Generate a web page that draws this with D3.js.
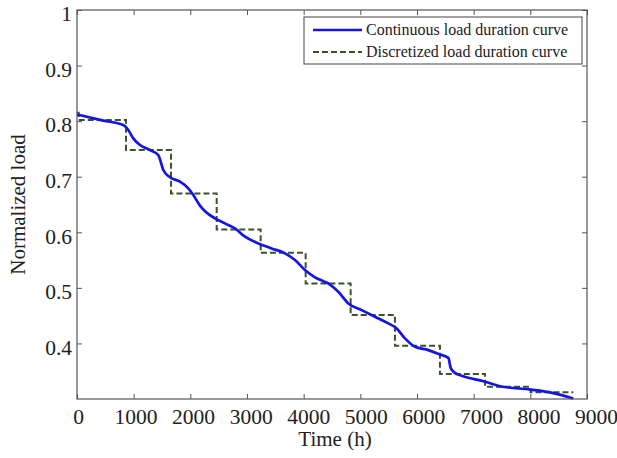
<!DOCTYPE html>
<html><head><meta charset="utf-8">
<script src="https://cdn.jsdelivr.net/npm/d3@7"></script>
<style>body{margin:0;background:#fff}svg{display:block}</style>
</head><body>
<svg id="c" width="617" height="458"></svg>
<script>
// Continuous load duration curve (time in h, normalized load)
const contTime = [0,464,817,905,993,1112,1288,1435,1477,1523,1641,1818,1964,2053,2170,2259,2435,2612,2788,2965,3200,3435,3670,3847,4023,4200,4347,4464,4611,4788,5023,5258,5494,5641,5788,5964,6200,6405,6553,6594,6670,6817,7170,7464,7994,8347,8759];
const contLoad = [0.812,0.801,0.793,0.784,0.769,0.757,0.748,0.739,0.727,0.712,0.699,0.691,0.679,0.667,0.648,0.638,0.625,0.616,0.607,0.592,0.580,0.571,0.562,0.550,0.532,0.519,0.512,0.506,0.493,0.472,0.460,0.448,0.436,0.427,0.409,0.394,0.388,0.380,0.374,0.356,0.347,0.341,0.332,0.323,0.317,0.312,0.301];
// Discretized load duration curve: step boundaries and levels
const stepTime = [0,30,865,1659,2465,3241,4035,4829,5611,6405,7200,8006,8759];
const stepLoad = [0.815,0.802,0.748,0.670,0.605,0.563,0.508,0.451,0.396,0.345,0.322,0.312];
const xTicks = [0,1000,2000,3000,4000,5000,6000,7000,8000,9000];
const yTicks = [0.4,0.5,0.6,0.7,0.8,0.9,1];
const legendLabels = ["Continuous load duration curve","Discretized load duration curve"];

const svg = d3.select("#c");
const L=77,R=587,T=10,B=399;
const x = d3.scaleLinear().domain([0,9000]).range([L,R]);
const y = d3.scaleLinear().domain([0.3,1]).range([B,T]);
const font = "'Liberation Serif','Times New Roman',serif";
const axisCol = "#555";

// curves
const contData = contTime.map((t,i)=>[t,contLoad[i]]);
const stepData = stepLoad.map((v,i)=>[stepTime[i],v]);
stepData.push([stepTime[stepTime.length-1], stepLoad[stepLoad.length-1]]);

svg.append("path").datum(stepData)
  .attr("d", d3.line().x(d=>x(d[0])).y(d=>y(d[1])).curve(d3.curveStepAfter))
  .attr("fill","none").attr("stroke","#3b5328").attr("stroke-width",2)
  .attr("stroke-dasharray","6,3");
svg.append("path").datum(contData)
  .attr("d", d3.line().x(d=>x(d[0])).y(d=>y(d[1])).curve(d3.curveMonotoneX))
  .attr("fill","none").attr("stroke","#1414e6").attr("stroke-width",2.7);

// box
svg.append("rect").attr("x",L).attr("y",T).attr("width",R-L).attr("height",B-T)
  .attr("fill","none").attr("stroke",axisCol).attr("stroke-width",1.2);

// axes (ticks inward on all sides)
const gx = svg.append("g").attr("transform",`translate(0,${B})`)
  .call(d3.axisBottom(x).tickValues(xTicks).tickSize(-5).tickPadding(10).tickFormat(d3.format("d")));
const gxt = svg.append("g").attr("transform",`translate(0,${T})`)
  .call(d3.axisTop(x).tickValues(xTicks).tickSize(-5).tickFormat(""));
const gy = svg.append("g").attr("transform",`translate(${L},0)`)
  .call(d3.axisLeft(y).tickValues(yTicks).tickSize(-5).tickPadding(5).tickFormat(d=>d===1?"1":d3.format(".1f")(d)));
const gyr = svg.append("g").attr("transform",`translate(${R},0)`)
  .call(d3.axisRight(y).tickValues(yTicks).tickSize(-5).tickFormat(""));
[gx,gxt,gy,gyr].forEach(g=>{
  g.select(".domain").remove();
  g.selectAll(".tick line").attr("stroke",axisCol);
  g.selectAll("text").attr("font-family",font).attr("font-size",21.5).attr("fill","#222");
});
gx.selectAll(".tick text").attr("dx",d=>1+d/9000*8);
gy.selectAll(".tick text").attr("dy","0.5em");

// axis titles
svg.append("text").attr("x",335).attr("y",446).attr("text-anchor","middle")
  .attr("font-family",font).attr("font-size",21).attr("fill","#222").text("Time (h)");
svg.append("text").attr("transform",`translate(25,${(T+B)/2}) rotate(-90)`).attr("text-anchor","middle")
  .attr("font-family",font).attr("font-size",21).attr("fill","#222").text("Normalized load");

// legend
const lg = svg.append("g");
lg.append("rect").attr("x",304).attr("y",17).attr("width",278).attr("height",47)
  .attr("fill","#fff").attr("stroke","#444").attr("stroke-width",1);
lg.append("line").attr("x1",313).attr("x2",362).attr("y1",30).attr("y2",30)
  .attr("stroke","#1414e6").attr("stroke-width",2.7);
lg.append("line").attr("x1",313).attr("x2",362).attr("y1",52).attr("y2",52)
  .attr("stroke","#3b5328").attr("stroke-width",2).attr("stroke-dasharray","6,3");
legendLabels.forEach((s,i)=>{
  lg.append("text").attr("x",366).attr("y",35+i*22).attr("font-family",font)
    .attr("font-size",16).attr("fill","#222").text(s);
});
</script>
</body></html>
